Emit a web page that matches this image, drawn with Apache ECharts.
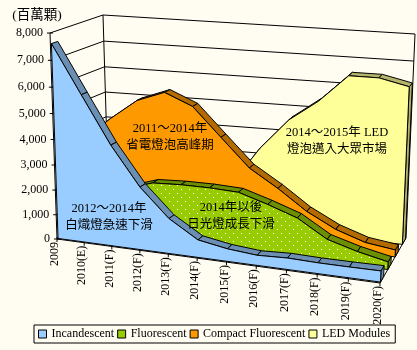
<!DOCTYPE html>
<html>
<head>
<meta charset="utf-8">
<title>3D area chart</title>
<script src="https://cdn.jsdelivr.net/npm/echarts@6/dist/echarts.min.js"></script>
<style>
  html, body { margin: 0; padding: 0; background: #fffcf2; }
  #chart { width: 417px; height: 350px; }
</style>
</head>
<body>
<div id="chart"></div>
<script>
// 數值 (百萬顆)
const years = ['2009', '2010(E)', '2011(F)', '2012(F)', '2013(F)', '2014(F)', '2015(F)', '2016(F)', '2017(F)', '2018(F)', '2019(F)', '2020(F)']
const yTicks = [0, 1000, 2000, 3000, 4000, 5000, 6000, 7000, 8000]
const incandescent = [7600, 5800, 4000, 2500, 1400, 700, 500, 400, 450, 420, 420, 430]
const fluorescent = [1200, 1500, 2000, 2350, 2400, 2400, 2350, 2000, 1600, 900, 560, 300]
const compact = [3500, 4400, 5200, 5600, 5150, 4050, 2950, 2250, 1450, 850, 450, 280]
const led = [50, 100, 200, 500, 900, 1900, 3400, 4600, 5400, 6450, 6450, 6200]

const FONT = '"Liberation Serif", "Noto Sans CJK TC", serif'

// corners of the 3D box on screen: [t][v] front / back
const front = { x00: 57, y00: 239, x01: 50, y01: 33, x10: 380, y10: 283, x11: 389, y11: 61 }
const back = { x00: 109, y00: 212, x01: 103, y01: 15, x10: 406, y10: 238, x11: 415, y11: 34 }

function lerp(a, b, k) { return a + (b - a) * k }
function warp(k, w) { return k / (k + (1 - k) * w) }

// grid pixel -> box position -> screen pixel
function project(api, cat, val, d) {
  const p0 = api.coord([0, 0])
  const p1 = api.coord([years.length - 1, 8000])
  const p = api.coord([cat, val])
  const t = warp((p[0] - p0[0]) / (p1[0] - p0[0]), 1.087)
  const v = warp((p[1] - p0[1]) / (p1[1] - p0[1]), 1.07)
  function plane(c) {
    return [
      lerp(lerp(c.x00, c.x10, t), lerp(c.x01, c.x11, t), v),
      lerp(lerp(c.y00, c.y10, t), lerp(c.y01, c.y11, t), v)
    ]
  }
  const a = plane(front)
  const b = plane(back)
  return [lerp(a[0], b[0], d), lerp(a[1], b[1], d)]
}

function slab(values, face, edge, d0, d1) {
  return function (params, api) {
    const children = []
    const last = values.length - 1
    const pts = values.map((v, i) => project(api, i, v, d0))
    pts.push(project(api, last, 0, d0), project(api, 0, 0, d0))
    // side at the right end
    children.push({
      type: 'polygon',
      shape: { points: [project(api, last, 0, d0), project(api, last, values[last], d0), project(api, last, values[last], d1), project(api, last, 0, d1)] },
      style: { fill: edge, stroke: '#000', lineWidth: 1 }
    })
    // top strip
    for (let i = 0; i < last; i++) {
      children.push({
        type: 'polygon',
        shape: { points: [project(api, i, values[i], d0), project(api, i + 1, values[i + 1], d0), project(api, i + 1, values[i + 1], d1), project(api, i, values[i], d1)] },
        style: { fill: edge, stroke: '#000', lineWidth: 1 }
      })
    }
    children.push({
      type: 'polygon',
      shape: { points: pts },
      style: { fill: face, stroke: '#000', lineWidth: 1 }
    })
    return { type: 'group', children }
  }
}

function frame(params, api) {
  const children = []
  function line(a, b) {
    children.push({
      type: 'line',
      shape: { x1: a[0], y1: a[1], x2: b[0], y2: b[1] },
      style: { stroke: '#000', lineWidth: 1 }
    })
  }
  const last = years.length - 1
  yTicks.forEach(v => {
    const a = project(api, 0, v, 0)
    const b = project(api, 0, v, 1)
    const c = project(api, last, v, 1)
    line(a, b)
    line(b, c)
    line([a[0] - 3, a[1]], [a[0] + 3, a[1]])
    children.push({
      type: 'text', x: a[0] - 7, y: a[1],
      style: { text: v === 0 ? '0' : v.toLocaleString('en-US'), font: '12px ' + FONT, fill: '#000', align: 'right', verticalAlign: 'middle' }
    })
  })
  line(project(api, 0, 0, 0), project(api, 0, 8000, 0))
  line(project(api, 0, 0, 1), project(api, 0, 8000, 1))
  line(project(api, last, 0, 1), project(api, last, 8000, 1))
  line(project(api, 0, 0, 0), project(api, last, 0, 0))
  line(project(api, last, 0, 0), project(api, last, 0, 1))
  line(project(api, 0, 0, 0), project(api, 0, 0, 1))
  years.forEach((y, i) => {
    const a = project(api, i, 0, 0)
    line([a[0], a[1] - 2], [a[0], a[1] + 3])
    children.push({
      type: 'text', x: a[0] - 2, y: a[1] + 3, rotation: Math.PI / 2,
      style: { text: y, font: '12px ' + FONT, fill: '#000', align: 'right', verticalAlign: 'middle' }
    })
  })
  return { type: 'group', children }
}

// dotted fill of the fluorescent face
function dots() {
  const c = document.createElement('canvas')
  c.width = 8
  c.height = 8
  const g = c.getContext('2d')
  g.fillStyle = '#99cc00'
  g.fillRect(0, 0, 8, 8)
  g.fillStyle = '#fff'
  g.fillRect(1, 1, 1, 1)
  g.fillRect(5, 5, 1, 1)
  return { image: c, repeat: 'repeat' }
}

function note(text, x, y) {
  return {
    type: 'text', x, y, z: 50,
    style: { text, font: '12.5px ' + FONT, fill: '#000', align: 'center', verticalAlign: 'middle', lineHeight: 17 }
  }
}

const chart = echarts.init(document.getElementById('chart'), null, { renderer: 'canvas' })
chart.setOption({
  animation: false,
  backgroundColor: '#fffcf2',
  grid: { left: 50, right: 30, top: 30, bottom: 60 },
  xAxis: { type: 'category', data: years, boundaryGap: false, show: false },
  yAxis: { type: 'value', min: 0, max: 8000, interval: 1000, show: false },
  legend: {
    left: 34, top: 325, width: 370, padding: [3, 5, 3, 4], itemGap: 3, itemWidth: 8, itemHeight: 8,
    borderColor: '#000', borderWidth: 1, borderRadius: 0,
    textStyle: { fontFamily: FONT, fontSize: 12, color: '#000' },
    data: [
      { name: 'Incandescent', icon: 'rect', itemStyle: { color: '#99ccff', borderColor: '#000', borderWidth: 1 } },
      { name: 'Fluorescent', icon: 'rect', itemStyle: { color: '#99cc00', borderColor: '#000', borderWidth: 1 } },
      { name: 'Compact Fluorescent', icon: 'rect', itemStyle: { color: '#ff9900', borderColor: '#000', borderWidth: 1 } },
      { name: 'LED Modules', icon: 'rect', itemStyle: { color: '#ffff99', borderColor: '#000', borderWidth: 1 } }
    ]
  },
  series: [
    { type: 'custom', name: 'frame', z: 1, silent: true, data: [0], renderItem: frame },
    { type: 'custom', name: 'LED Modules', z: 2, silent: true, data: [0], itemStyle: { color: '#ffff99' }, renderItem: slab(led, '#ffff99', '#b3b36b', 0.86, 0.98) },
    { type: 'custom', name: 'Compact Fluorescent', z: 3, silent: true, data: [0], itemStyle: { color: '#ff9900' }, renderItem: slab(compact, '#ff9900', '#b36b00', 0.58, 0.70) },
    { type: 'custom', name: 'Fluorescent', z: 4, silent: true, data: [0], itemStyle: { color: '#99cc00' }, renderItem: slab(fluorescent, dots(), '#6b8f00', 0.30, 0.42) },
    { type: 'custom', name: 'Incandescent', z: 5, silent: true, data: [0], itemStyle: { color: '#99ccff' }, renderItem: slab(incandescent, '#99ccff', '#6b8fb3', 0.02, 0.14) }
  ],
  graphic: [
    { type: 'text', x: 37, y: 15, z: 50, style: { text: '(百萬顆)', font: '13.5px ' + FONT, fill: '#000', align: 'center', verticalAlign: 'middle' } },
    note('2011～2014年\n省電燈泡高峰期', 170, 137),
    note('2014～2015年 LED\n燈泡邁入大眾市場', 337, 141),
    note('2012～2014年\n白熾燈急速下滑', 109, 217),
    note('2014年以後\n日光燈成長下滑', 231, 216)
  ]
})
</script>
</body>
</html>
